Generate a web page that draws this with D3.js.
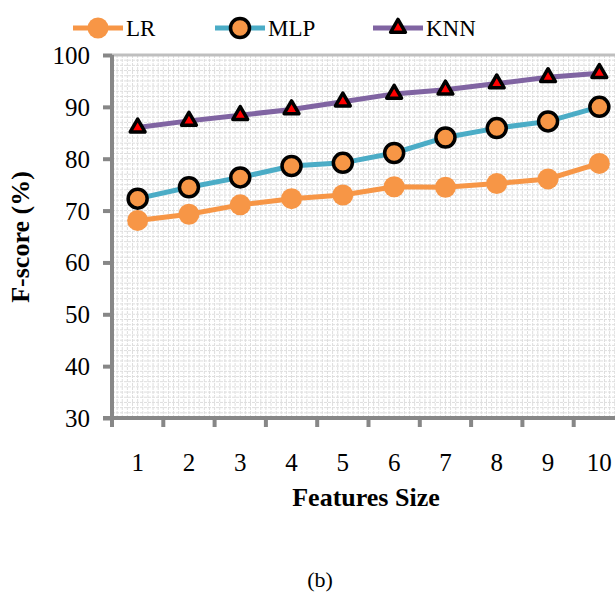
<!DOCTYPE html>
<html>
<head>
<meta charset="utf-8">
<script src="https://cdn.jsdelivr.net/npm/d3@7"></script>
<style>
  body { margin: 0; background: #fff; }
  svg text { font-family: "Liberation Serif", "Times New Roman", serif; fill: #000; }
</style>
</head>
<body>
<svg id="chart" width="615" height="594"></svg>
<script>
// data
var featureSizes = [1, 2, 3, 4, 5, 6, 7, 8, 9, 10];
var lrScores  = [68.1, 69.3, 71.1, 72.3, 73.0, 74.6, 74.5, 75.2, 76.1, 79.1];
var mlpScores = [72.3, 74.5, 76.4, 78.6, 79.2, 81.1, 84.1, 85.9, 87.2, 90.0];
var knnScores = [86.0, 87.3, 88.4, 89.5, 91.0, 92.5, 93.3, 94.5, 95.7, 96.5];
var yTicks = [30, 40, 50, 60, 70, 80, 90, 100];
var seriesNames = ['LR', 'MLP', 'KNN'];

(function () {
    'use strict';

    var svg = d3.select('#chart');
    var plotLeft = 112, plotTop = 55, plotBottom = 418, plotRight = 625;

    var x = d3.scaleBand().domain(featureSizes).range([plotLeft, plotRight]).padding(0);
    var y = d3.scaleLinear().domain([30, 100]).range([plotBottom, plotTop]);

    // minor grid, one line per unit on y and ten per category on x
    var grid = svg.append('g').attr('class', 'grid');
    d3.range(31, 100).forEach(function (v) {
        grid.append('line').attr('x1', plotLeft).attr('x2', plotRight).attr('y1', y(v)).attr('y2', y(v));
    });
    var step = x.bandwidth() / 10;
    d3.range(1, 100).forEach(function (i) {
        var gx = plotLeft + i * step;
        grid.append('line').attr('x1', gx).attr('x2', gx).attr('y1', plotTop).attr('y2', plotBottom);
    });
    grid.selectAll('line').attr('stroke', '#dedede').attr('stroke-width', 1).attr('stroke-dasharray', '3,1');

    // top border of plot area
    svg.append('line').attr('x1', plotLeft).attr('x2', plotRight).attr('y1', y(100)).attr('y2', y(100))
        .attr('stroke', '#bfbfbf').attr('stroke-width', 3);

    // y axis
    var yAxis = svg.append('g').attr('transform', 'translate(' + plotLeft + ',0)')
        .call(d3.axisLeft(y).tickValues(yTicks).tickSize(9).tickPadding(13));
    yAxis.select('.domain').attr('stroke', '#878787').attr('stroke-width', 4)
        .attr('d', 'M0,' + plotTop + 'V' + (plotBottom + 2));
    yAxis.selectAll('.tick line').attr('stroke', '#878787').attr('stroke-width', 4);
    yAxis.selectAll('.tick text').style('font-size', '25px').style('font-family', '"Liberation Serif", serif')
        .attr('fill', '#000').attr('dy', '0.34em');

    // x axis, ticks on category boundaries
    var xAxis = svg.append('g').attr('transform', 'translate(0,' + plotBottom + ')');
    xAxis.append('line').attr('x1', plotLeft - 9).attr('x2', plotRight).attr('y1', 0).attr('y2', 0)
        .attr('stroke', '#878787').attr('stroke-width', 4);
    featureSizes.forEach(function (d) {
        xAxis.append('line').attr('x1', x(d)).attr('x2', x(d)).attr('y1', 0).attr('y2', 9)
            .attr('stroke', '#878787').attr('stroke-width', 4);
        xAxis.append('text').attr('x', x(d) + x.bandwidth() / 2).attr('y', 53)
            .attr('text-anchor', 'middle').style('font-size', '25px').text(d);
    });

    // axis titles
    svg.append('text').attr('x', 366).attr('y', 506).attr('text-anchor', 'middle')
        .style('font-size', '26px').style('font-weight', 'bold').text('Features Size');
    svg.append('text').attr('transform', 'translate(29,237) rotate(-90)').attr('text-anchor', 'middle')
        .style('font-size', '26px').style('font-weight', 'bold').text('F-score (%)');
    svg.append('text').attr('x', 320).attr('y', 587).attr('text-anchor', 'middle')
        .style('font-size', '22px').text('(b)');

    var cx = function (d, i) { return x(featureSizes[i]) + x.bandwidth() / 2; };
    var line = d3.line().x(cx).y(function (d) { return y(d); });

    var colors = { LR: '#f79646', MLP: '#4bacc6', KNN: '#8064a2' };
    var triangle = d3.symbol().type(d3.symbolTriangle).size(95);

    function drawMarker(g, name) {
        if (name === 'LR') {
            g.append('circle').attr('r', 10.5).attr('fill', '#f79646');
        } else if (name === 'MLP') {
            g.append('circle').attr('r', 9.5).attr('fill', '#f79646').attr('stroke', '#000').attr('stroke-width', 3.5);
        } else {
            g.append('path').attr('d', triangle).attr('fill', '#ff0000').attr('stroke', '#000').attr('stroke-width', 3.5)
                .attr('stroke-linejoin', 'round');
        }
    }

    var seriesData = { LR: lrScores, MLP: mlpScores, KNN: knnScores };
    seriesNames.forEach(function (name) {
        var vals = seriesData[name];
        svg.append('path').datum(vals).attr('d', line).attr('fill', 'none')
            .attr('stroke', colors[name]).attr('stroke-width', 5);
        vals.forEach(function (v, i) {
            var g = svg.append('g').attr('transform', 'translate(' + cx(v, i) + ',' + y(v) + ')');
            drawMarker(g, name);
        });
    });

    // legend
    var legendX = [73, 215, 373];
    seriesNames.forEach(function (name, i) {
        var g = svg.append('g').attr('transform', 'translate(' + legendX[i] + ',28)');
        g.append('line').attr('x1', 0).attr('x2', 50).attr('stroke', colors[name]).attr('stroke-width', 5);
        var m = g.append('g').attr('transform', 'translate(25,0)');
        drawMarker(m, name);
        g.append('text').attr('x', 53).attr('y', 0).attr('dy', '0.36em').style('font-size', '23px').text(name);
    });
})();
</script>
</body>
</html>
